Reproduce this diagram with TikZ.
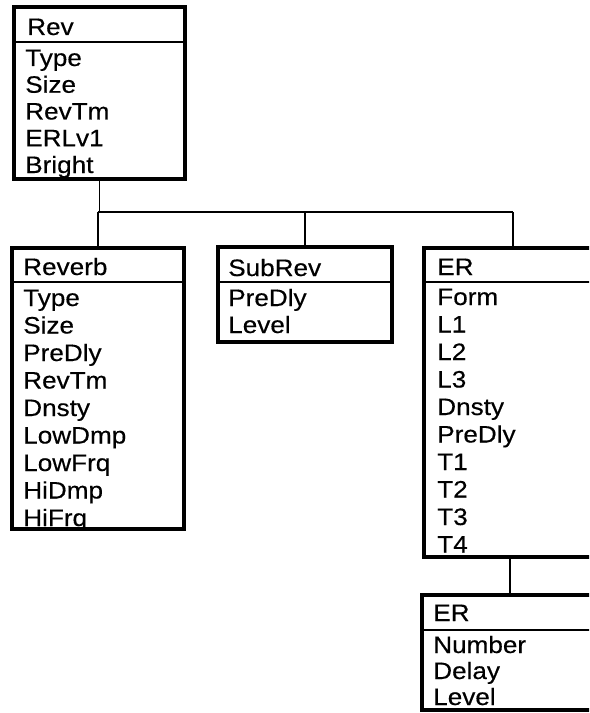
\documentclass[tikz,border=0pt]{standalone}
\usepackage{fontspec}
\setmainfont{Liberation Sans}[FakeStretch=1.1,FakeBold=0.4]
\begin{document}
\begin{tikzpicture}[x=0.75pt,y=-0.75pt,
  box/.style={draw=black,line width=2.3pt,inner sep=0pt,outer sep=0pt,anchor=north west,fill=none},
  sepline/.style={draw=black,line width=1.7pt},
  conn/.style={draw=black,line width=1.2pt},
  txt/.style={anchor=base west,inner sep=0pt,font=\fontsize{17.8}{20}\selectfont}]
\useasboundingbox (0,0) rectangle (589,713);
\clip (0,0) rectangle (589,713);
% boxes
\node[box,minimum width={(185-14)*0.75pt},minimum height={(179-7)*0.75pt}] (rev) at (14,7) {};
\node[box,minimum width={(184-12)*0.75pt},minimum height={(529-248)*0.75pt}] (reverb) at (12,248) {};
\node[box,minimum width={(392-218)*0.75pt},minimum height={(342-247)*0.75pt}] (subrev) at (218,247) {};
\node[box,minimum width={(602-424)*0.75pt},minimum height={(557-248)*0.75pt}] (er) at (424,248) {};
\node[box,minimum width={(598-422)*0.75pt},minimum height={(710-595)*0.75pt}] (er2) at (422,595) {};
% header separators
\draw[sepline] (rev.west |- 0,42) -- (rev.east |- 0,42);
\draw[sepline] (reverb.west |- 0,282) -- (reverb.east |- 0,282);
\draw[sepline] (subrev.west |- 0,282) -- (subrev.east |- 0,282);
\draw[sepline] (er.west |- 0,282) -- (er.east |- 0,282);
\draw[sepline] (er2.west |- 0,630) -- (er2.east |- 0,630);
% headers
\node[txt] (rev-h) at (27,35) {Rev};
\node[txt] (reverb-h) at (23,275) {Reverb};
\node[txt] (subrev-h) at (228,276) {SubRev};
\node[txt] (er-h) at (437,275) {ER};
\node[txt] (er2-h) at (433,621) {ER};
% bodies
\foreach \t [count=\i] in {Type,Size,RevTm,ERLv1,Bright}
  \node[txt] (rev-\i) at ({25},{66+26.75*(\i-1)}) {\t};
\foreach \t [count=\i] in {Type,Size,PreDly,RevTm,Dnsty,LowDmp,LowFrq,HiDmp,HiFrq}
  \node[txt] (reverb-\i) at ({23},{306+27.5*(\i-1)}) {\t};
\foreach \t [count=\i] in {PreDly,Level}
  \node[txt] (subrev-\i) at ({228},{306+27*(\i-1)}) {\t};
\foreach \t [count=\i] in {Form,L1,L2,L3,Dnsty,PreDly,T1,T2,T3,T4}
  \node[txt] (er-\i) at ({437},{305+27.5*(\i-1)}) {\t};
\foreach \t [count=\i] in {Number,Delay,Level}
  \node[txt] (er2-\i) at ({433},{653+26*(\i-1)}) {\t};
% connectors
\coordinate (bus) at (100,212);
\draw[conn] (rev.south) -- (rev.south |- bus);
\draw[conn] (reverb.north |- bus) -- (er.north |- bus);
\draw[conn] (reverb.north |- bus) -- (reverb.north);
\draw[conn] (subrev.north |- bus) -- (subrev.north);
\draw[conn] (er.north |- bus) -- (er.north);
\draw[conn] (er2.north |- er.south) -- (er2.north);
\end{tikzpicture}
\end{document}
